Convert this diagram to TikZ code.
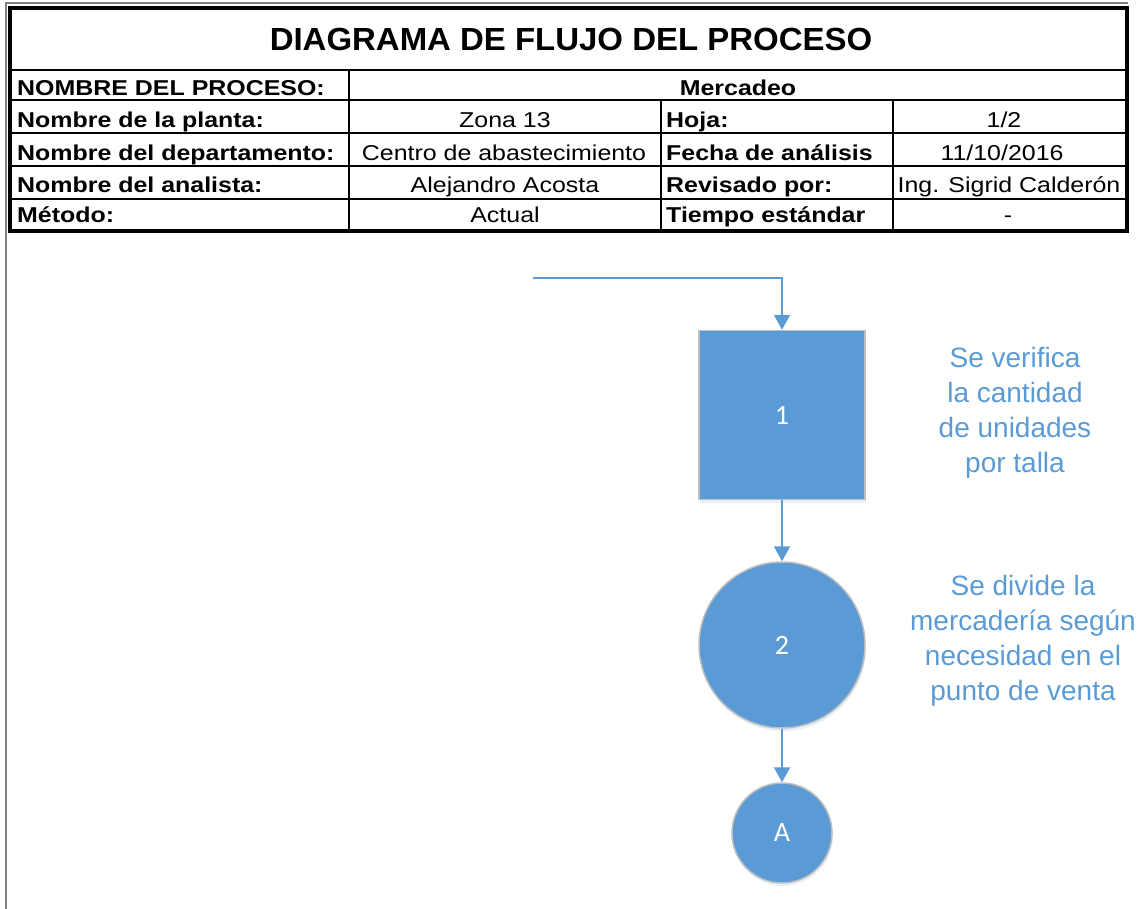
\documentclass[tikz,border=0pt]{standalone}
\usepackage{fontspec}
\setmainfont{Liberation Sans}
\newfontfamily\calib{Carlito}
\usetikzlibrary{arrows.meta,shadows}
\definecolor{blu}{HTML}{5B9BD5}
\definecolor{framegray}{HTML}{808080}
\definecolor{edgegray}{HTML}{BFBFBF}
\newcommand{\hb}[1]{\scalebox{1.16}[1]{\bfseries #1}}
\newcommand{\hr}[1]{\scalebox{1.16}[1]{#1}}
\begin{document}
\begin{tikzpicture}[x=1pt,y=-1pt,
  cell/.style={inner sep=0pt, font=\fontsize{21.5}{21.5}\selectfont},
  lbl/.style={cell, anchor=base west},
  val/.style={cell, anchor=base},
  grid/.style={line width=2pt},
  stepbox/.style={draw=edgegray, line width=1.5pt, fill=blu, text=white, minimum width=166pt, minimum height=169pt, inner sep=0pt, font=\calib\fontsize{28}{28}\selectfont, drop shadow={shadow xshift=1pt, shadow yshift=-3pt, opacity=0.15, fill=blu}},
  stepcirc/.style={circle, draw=edgegray, line width=1.5pt, fill=blu, text=white, inner sep=0pt, font=\calib\fontsize{28}{28}\selectfont, drop shadow={shadow xshift=1pt, shadow yshift=-3pt, opacity=0.15, fill=blu}},
  note/.style={text=blu, align=center, inner sep=0pt, font=\fontsize{28}{35}\selectfont},
  flow/.style={draw=blu, line width=2pt, -{Triangle[length=15pt,width=16pt]}}
]
\useasboundingbox (0,0) rectangle (1142,909);
\fill[white] (0,0) rectangle (1142,909);
% outer page frame
\draw[framegray, line width=1.5pt] (6,909) -- (6,3) -- (1128,3);
% table grid
\draw[grid] (10,70) -- (1127,70);
\draw[grid] (10,100) -- (1127,100);
\draw[grid] (10,133) -- (1127,133);
\draw[grid] (10,166) -- (1127,166);
\draw[grid] (10,199) -- (1127,199);
\draw[grid] (349,70) -- (349,231);
\draw[grid] (661,100) -- (661,231);
\draw[grid] (893,100) -- (893,231);
\draw[line width=3.5pt] (10,8) rectangle (1127,231);
% title
\node[inner sep=0pt, anchor=base] (title) at (571,50.7) {\scalebox{1.03}[1]{\fontsize{32}{32}\selectfont\bfseries DIAGRAMA DE FLUJO DEL PROCESO}};
% column 1
\node[lbl] (l1) at (17,95.5) {\hb{NOMBRE DEL PROCESO:}};
\node[lbl] (l2) at (17,127.5) {\hb{Nombre de la planta:}};
\node[lbl] (l3) at (17,160.3) {\hb{Nombre del departamento:}};
\node[lbl] (l4) at (17,192.7) {\hb{Nombre del analista:}};
\node[lbl] (l5) at (17,223) {\hb{Método:}};
% merged cell
\node[val] (v1) at (738,95.5) {\hb{Mercadeo}};
% column 2
\node[val] (v2) at (505,127.5) {\hr{Zona 13}};
\node[val] (v3) at (504,160.3) {\hr{Centro de abastecimiento}};
\node[val] (v4) at (505,192.7) {\hr{Alejandro Acosta}};
\node[val] (v5) at (505,223) {\hr{Actual}};
% column 3
\node[lbl] (m2) at (666,127.5) {\hb{Hoja:}};
\node[lbl] (m3) at (666,160.3) {\hb{Fecha de análisis}};
\node[lbl] (m4) at (666,192.7) {\hb{Revisado por:}};
\node[lbl] (m5) at (666,223) {\hb{Tiempo estándar}};
% column 4
\node[val] (w2) at (1004,127.5) {\hr{1/2}};
\node[val] (w3) at (1002,160.3) {\hr{11/10/2016}};
\node[val] (w4) at (1009,192.7) {\hr{Ing. Sigrid Calderón}};
\node[val] (w5) at (1008,223) {\hr{-}};
% flow
\coordinate (start) at (533,278);
\node[stepbox] (n1) at (782,415) {1};
\node[stepcirc, minimum size=166pt] (n2) at (782,645) {2};
\node[stepcirc, minimum size=100pt] (nA) at (782,833) {A};
\draw[flow] (start) -| (n1.north);
\draw[flow] (n1) -- (n2);
\draw[flow] (n2) -- (nA);
% notes
\node[note] (t1) at (1015,413) {Se verifica\\la cantidad\\de unidades\\por talla};
\node[note] (t2) at (1023,641) {Se divide la\\mercadería según\\necesidad en el\\punto de venta};
\end{tikzpicture}
\end{document}
